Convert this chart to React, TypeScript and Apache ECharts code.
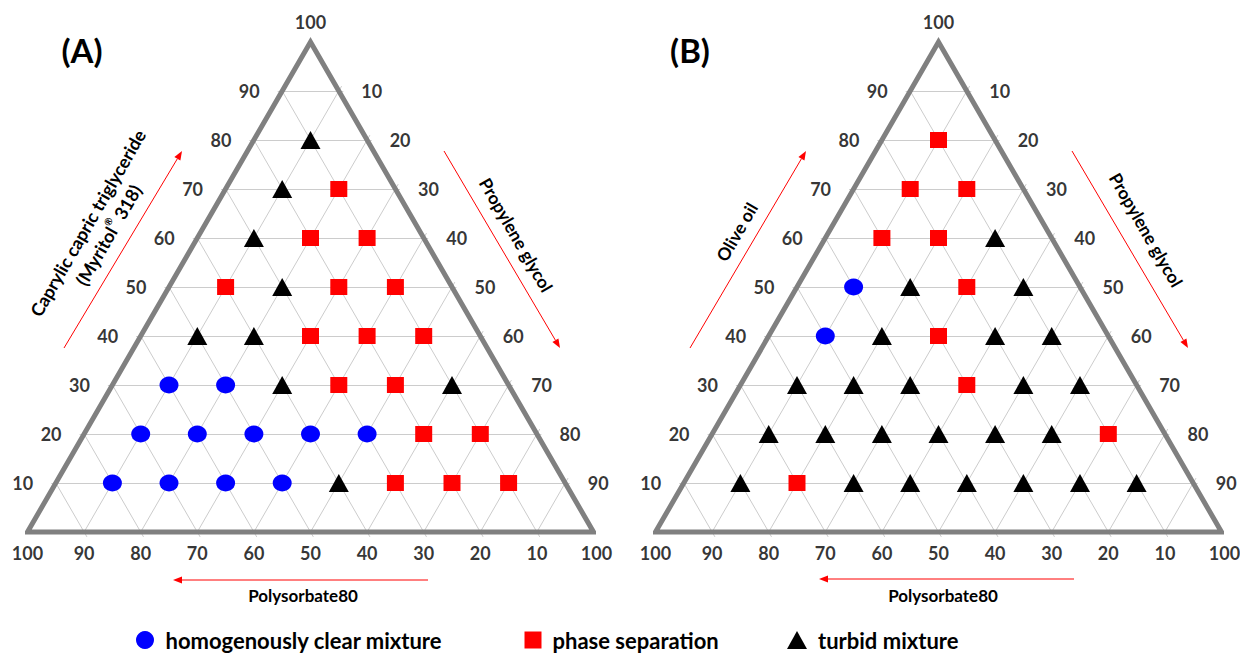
import React, { useEffect, useRef } from 'react';
import * as echarts from 'echarts';

// ---------- data ----------
const ticks = [10, 20, 30, 40, 50, 60, 70, 80, 90];
const seriesNames = ['homogenously clear mixture', 'phase separation', 'turbid mixture'];
const panelTitles = ['(A)', '(B)'];
const oilNames = ['Caprylic capric triglyceride', 'Olive oil'];
const surfactantName = 'Polysorbate80';
const cosolventName = 'Propylene glycol';

// each point: [oil, Polysorbate80, Propylene glycol] (%)
const clearA = [
  [10, 80, 10], [10, 70, 20], [10, 60, 30], [10, 50, 40],
  [20, 70, 10], [20, 60, 20], [20, 50, 30], [20, 40, 40], [20, 30, 50],
  [30, 60, 10], [30, 50, 20],
];
const phaseA = [
  [10, 30, 60], [10, 20, 70], [10, 10, 80],
  [20, 20, 60], [20, 10, 70],
  [30, 30, 40], [30, 20, 50],
  [40, 30, 30], [40, 20, 40], [40, 10, 50],
  [50, 40, 10], [50, 20, 30], [50, 10, 40],
  [60, 20, 20], [60, 10, 30],
  [70, 10, 20],
];
const turbidA = [
  [10, 40, 50],
  [30, 40, 30], [30, 10, 60],
  [40, 50, 10], [40, 40, 20],
  [50, 30, 20],
  [60, 30, 10],
  [70, 20, 10],
  [80, 10, 10],
];
const clearB = [[40, 50, 10], [50, 40, 10]];
const phaseB = [
  [10, 70, 20], [20, 10, 70], [30, 30, 40], [40, 40, 30], [50, 20, 30],
  [60, 30, 10], [60, 20, 20], [70, 20, 10], [70, 10, 20], [80, 10, 10],
];
const turbidB = [
  [10, 80, 10], [10, 60, 30], [10, 50, 40], [10, 40, 50], [10, 30, 60], [10, 20, 70], [10, 10, 80],
  [20, 70, 10], [20, 60, 20], [20, 50, 30], [20, 40, 40], [20, 30, 50], [20, 20, 60],
  [30, 60, 10], [30, 50, 20], [30, 40, 30], [30, 20, 50], [30, 10, 60],
  [40, 40, 20], [40, 20, 40], [40, 10, 50],
  [50, 30, 20], [50, 10, 40],
  [60, 10, 30],
];

// ---------- layout / style ----------
const FONT = 'Lato, "Open Sans", sans-serif';
const PANEL_LEFT = [27.5, 655.5];
const GRID_TOP = 42;
const GRID_W = 566;
const GRID_H = 490;

const toXY = (pt: number[]) => [pt[2] + pt[0] / 2, pt[0]];

function buildGridLines() {
  const out: any[] = [];
  ticks.forEach((t) => {
    out.push({ coords: [[t / 2 - 0.8, t], [100 - t / 2 + 0.8, t]] });
    out.push({ coords: [[t, 0], [t + (100 - t) / 2 + 0.5, 100 - t + 1]] });
    out.push({ coords: [[(100 - t) / 2, 100 - t], [100 - t + 0.5, -1]] });
  });
  return out;
}

function arrow(x1: number, y1: number, x2: number, y2: number) {
  const dx = x2 - x1, dy = y2 - y1;
  const len = Math.hypot(dx, dy);
  const ux = dx / len, uy = dy / len;
  const hl = 9, hw = 3.5;
  const bx = x2 - ux * hl, by = y2 - uy * hl;
  return [
    { type: 'line', shape: { x1, y1, x2: bx, y2: by }, style: { stroke: '#ff0000', lineWidth: 1 }, silent: true },
    {
      type: 'polygon',
      shape: { points: [[x2, y2], [bx - uy * hw, by + ux * hw], [bx + uy * hw, by - ux * hw]] },
      style: { fill: '#ff0000' },
      silent: true,
    },
  ];
}

function labelSeries(idx: number, data: any[], offset: number[]) {
  return {
    type: 'scatter',
    xAxisIndex: idx,
    yAxisIndex: idx,
    data,
    symbolSize: 1,
    itemStyle: { color: 'rgba(0,0,0,0)' },
    silent: true,
    clip: false,
    z: 5,
    label: {
      show: true,
      position: 'inside',
      offset,
      formatter: '{b}',
      color: '#000',
      fontFamily: FONT,
      fontWeight: 'bold',
      fontSize: 18,
    },
  };
}

function buildOption() {
  const panels = [
    [clearA, phaseA, turbidA],
    [clearB, phaseB, turbidB],
  ];
  const symbols = ['circle', 'rect', 'triangle'];
  const sizes = [[19, 17], [17, 16], [20, 18]];
  const colors = ['#0000ff', '#ff0000', '#000000'];
  const gridLines = buildGridLines();

  const series: any[] = [];
  panels.forEach((sets, i) => {
    series.push({
      type: 'lines',
      coordinateSystem: 'cartesian2d',
      xAxisIndex: i,
      yAxisIndex: i,
      data: gridLines,
      lineStyle: { color: '#cccccc', width: 1, opacity: 1, curveness: 0 },
      silent: true,
      clip: false,
      z: 1,
    });
    series.push({
      type: 'line',
      xAxisIndex: i,
      yAxisIndex: i,
      data: [[0, 0], [100, 0], [50, 100], [0, 0], [100, 0]],
      symbol: 'none',
      lineStyle: { color: '#808080', width: 5, join: 'miter', miterLimit: 10 },
      silent: true,
      clip: false,
      z: 2,
    });
    sets.forEach((pts, k) => {
      series.push({
        type: 'scatter',
        name: seriesNames[k],
        xAxisIndex: i,
        yAxisIndex: i,
        data: pts.map(toXY),
        symbol: symbols[k],
        symbolSize: sizes[k],
        itemStyle: { color: colors[k], opacity: 1 },
        clip: false,
        z: 3,
      });
    });
    series.push(labelSeries(i, ticks.map((t) => ({ name: String(t), value: [t / 2, t] })), [-33, 0]));
    series.push(labelSeries(i, [{ name: '100', value: [50, 100] }], [0, -20]));
    series.push(labelSeries(i, ticks.map((t) => ({ name: String(t), value: [t + (100 - t) / 2, 100 - t] })), [33, 0]));
    series.push(labelSeries(i, [100, ...ticks.slice().reverse()].map((s) => ({ name: String(s), value: [100 - s, 0] })), [0, 21]));
    series.push(labelSeries(i, [{ name: '100', value: [100, 0] }], [3, 21]));
  });

  const legendText = { fontFamily: FONT, fontWeight: 'bold', fontSize: 22, color: '#000', padding: [0, 0, 0, 6] };
  const legendLefts = [136, 524.5, 787];
  const legendSizes = [[19, 18], [17, 17], [20, 18]];
  const legend = seriesNames.map((n, k) => ({
    data: [n],
    left: legendLefts[k],
    top: 629,
    padding: 0,
    icon: symbols[k],
    itemWidth: legendSizes[k][0],
    itemHeight: legendSizes[k][1],
    textStyle: legendText,
    selectedMode: false,
  }));

  const textEl = (text: string, x: number, y: number, size: number, rotation = 0) => ({
    type: 'text',
    x,
    y,
    rotation,
    silent: true,
    style: {
      text,
      fill: '#000',
      fontFamily: FONT,
      fontWeight: 'bold',
      fontSize: size,
      align: 'center',
      verticalAlign: 'middle',
    },
  });

  const graphic: any[] = [
    textEl(panelTitles[0], 82, 50, 33),
    textEl(panelTitles[1], 690, 50, 33),
    {
      type: 'text',
      x: 98,
      y: 229,
      rotation: Math.PI / 3,
      silent: true,
      style: {
        text: '{a|' + oilNames[0] + '}\n{a|(Myritol}{s|®}{a| 318)}',
        align: 'center',
        verticalAlign: 'middle',
        fill: '#000',
        rich: {
          a: { fontFamily: FONT, fontWeight: 'bold', fontSize: 18, lineHeight: 24, fill: '#000' },
          s: { fontFamily: FONT, fontWeight: 'bold', fontSize: 10, lineHeight: 24, verticalAlign: 'top', fill: '#000' },
        },
      },
    },
    textEl(cosolventName, 516, 235, 17.5, -Math.PI / 3),
    textEl(surfactantName, 303, 595, 17),
    textEl(oilNames[1], 737, 232, 17.5, Math.PI / 3),
    textEl(cosolventName, 1146, 230, 17.5, -Math.PI / 3),
    textEl(surfactantName, 943, 595, 17),
    ...arrow(64, 348, 182, 151),
    ...arrow(444, 151, 560, 348),
    ...arrow(428, 580, 173, 580),
    ...arrow(690, 348, 806, 151),
    ...arrow(1072, 151, 1188, 348),
    ...arrow(1074, 579, 819, 579),
  ];

  return {
    animation: false,
    backgroundColor: '#ffffff',
    grid: PANEL_LEFT.map((left) => ({
      left,
      top: GRID_TOP,
      width: GRID_W,
      height: GRID_H,
      outerBoundsMode: 'none',
    })),
    xAxis: PANEL_LEFT.map((_, i) => ({ type: 'value', gridIndex: i, min: 0, max: 100, show: false })),
    yAxis: PANEL_LEFT.map((_, i) => ({ type: 'value', gridIndex: i, min: 0, max: 100, show: false })),
    legend,
    series,
    graphic,
  };
}

export default function App() {
  const ref = useRef<HTMLDivElement>(null);
  useEffect(() => {
    if (!ref.current) return;
    const chart = echarts.init(ref.current, null, { renderer: 'svg' });
    chart.setOption(buildOption() as any);
    return () => chart.dispose();
  }, []);
  return (
    <div
      ref={ref}
      style={{ position: 'absolute', left: 0, top: 0, width: 1240, height: 653, background: '#fff' }}
    />
  );
}
